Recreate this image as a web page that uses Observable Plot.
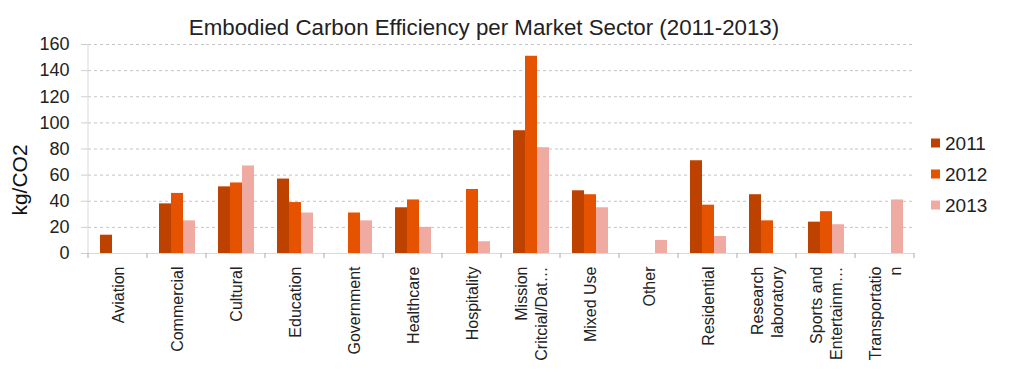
<!DOCTYPE html>
<html>
<head>
<meta charset="utf-8">
<script src="https://cdn.jsdelivr.net/npm/d3@7"></script>
<script src="https://cdn.jsdelivr.net/npm/@observablehq/plot@0.6"></script>
<style>
  html, body { margin: 0; padding: 0; background: #fff; }
  #chart { width: 1024px; height: 372px; }
</style>
</head>
<body>
<div id="chart"></div>
<script>
const title = "Embodied Carbon Efficiency per Market Sector (2011-2013)";
const yLabel = "kg/CO2";
const sectors = ["Aviation","Commercial","Cultural","Education","Government","Healthcare","Hospitality","Mission Critcial/Data","Mixed Use","Other","Residential","Research laboratory","Sports and Entertainment","Transportation"];
const sectorLabels = ["Aviation","Commercial","Cultural","Education","Government","Healthcare","Hospitality","Mission\nCritcial/Dat…","Mixed Use","Other","Residential","Research\nlaboratory","Sports and\nEntertainm…","Transportatio\nn"];
const years = ["2011","2012","2013"];
const values2011 = [14, 38, 51, 57, null, 35, null, 94, 48, null, 71, 45, 24, null];
const values2012 = [null, 46, 54, 39, 31, 41, 49, 151, 45, null, 37, 25, 32, null];
const values2013 = [null, 25, 67, 31, 25, 20, 9, 81, 35, 10, 13, null, 22, 41];
const yTicks = [0, 20, 40, 60, 80, 100, 120, 140, 160];
const colors = ["#bd4200", "#e65300", "#efaba1"];

const series = [values2011, values2012, values2013];
const rows = sectors.flatMap((s, i) => years.map((y, j) => ({sector: s, year: y, value: series[j][i]})))
  .filter(d => d.value != null);

const W = 1024, H = 372;
const M = {left: 87, right: 109, top: 44, bottom: 119};
const font = "'Liberation Sans', Arial, sans-serif";

const chart = Plot.plot({
  width: W, height: H,
  marginLeft: M.left, marginRight: M.right, marginTop: M.top, marginBottom: M.bottom,
  style: {fontFamily: font, background: "#fff", color: "#222", overflow: "visible"},
  fx: {domain: sectors, padding: 0, axis: null, label: null},
  x: {domain: years, paddingInner: 0, paddingOuter: 0.775, axis: null},
  y: {domain: [0, 160], label: null},
  color: {domain: years, range: colors},
  marks: [
    Plot.gridY(yTicks.slice(1), {stroke: "#c4c4c4", strokeOpacity: 1, strokeDasharray: "3,3"}),
    Plot.axisY(yTicks, {tickSize: 7, tickPadding: 12, fontSize: 18, stroke: "#cfcfcf", fill: "#222", label: null}),
    Plot.barY(rows, {fx: "sector", x: "year", y: "value", fill: "year"}),
    Plot.ruleY([0], {stroke: "#d9d9d9"}),
    Plot.text(sectors, {
      fx: d => d,
      text: (d, i) => sectorLabels[i],
      frameAnchor: "bottom",
      rotate: -90,
      textAnchor: "end",
      lineAnchor: "middle",
      lineHeight: 1.25,
      dy: 13,
      fontSize: 16,
      fill: "#222"
    })
  ]
});

document.getElementById("chart").appendChild(chart);

// Decorations using Plot's own scales
const svg = d3.select(chart);
const fx = chart.scale("fx");
const y = chart.scale("y");
const y0 = y.apply(0), yTop = y.apply(160);
const edges = sectors.map(s => fx.apply(s)).concat([fx.apply(sectors[sectors.length - 1]) + fx.bandwidth]);
const deco = svg.append("g");
deco.append("line").attr("x1", edges[0]).attr("x2", edges[0]).attr("y1", yTop).attr("y2", y0)
  .attr("stroke", "#d9d9d9");
deco.selectAll("line.edge").data(edges).join("line").attr("class", "edge")
  .attr("x1", d => d).attr("x2", d => d).attr("y1", y0).attr("y2", y0 + 5)
  .attr("stroke", "#aaa");

// Title
svg.append("text").attr("x", 484).attr("y", 35).attr("text-anchor", "middle")
  .attr("font-family", font).attr("font-size", 22.3).attr("fill", "#222").text(title);

// Y label
svg.append("text").attr("transform", `translate(27,180) rotate(-90)`).attr("text-anchor", "middle")
  .attr("font-family", font).attr("font-size", 21).attr("fill", "#111").text(yLabel);

// Legend
const leg = svg.append("g").attr("font-family", font).attr("font-size", 19).attr("fill", "#222")
  .attr("text-anchor", "start");
years.forEach((yr, i) => {
  const cy = 143 + i * 31;
  leg.append("rect").attr("x", 931).attr("y", cy - 4.5).attr("width", 9).attr("height", 9).attr("fill", colors[i]);
  leg.append("text").attr("x", 945).attr("y", cy).attr("dy", "0.35em").text(yr);
});
</script>
</body>
</html>
